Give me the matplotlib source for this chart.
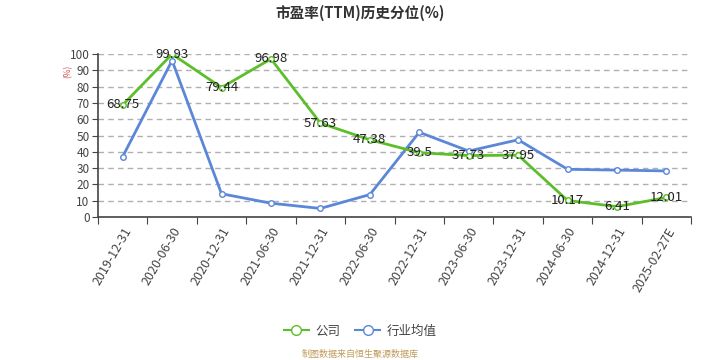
import matplotlib
matplotlib.use('Agg')
import matplotlib.pyplot as plt
import numpy as np

plt.rcParams['font.family'] = ['Noto Sans CJK SC', 'DejaVu Sans']

dates = ['2019-12-31', '2020-06-30', '2020-12-31', '2021-06-30', '2021-12-31', '2022-06-30',
         '2022-12-31', '2023-06-30', '2023-12-31', '2024-06-30', '2024-12-31', '2025-02-27E']
company = [68.75, 99.93, 79.44, 96.98, 57.63, 47.38, 39.5, 37.73, 37.95, 10.17, 6.41, 12.01]
industry = [37.0, 96.0, 14.3, 8.5, 5.3, 13.8, 52.0, 40.5, 47.4, 29.3, 28.8, 28.3]

green = '#5cbf2a'
blue = '#5b87d9'

fig = plt.figure(figsize=(7.2, 3.6), dpi=100)
ax = fig.add_axes([0.136, 0.397, 0.824, 0.453])

x = np.arange(len(dates))
ax.plot(x, company, color=green, lw=2, marker='o', ms=4, mfc='white', mec=green, mew=1, zorder=4)
ax.plot(x, industry, color=blue, lw=2, marker='o', ms=4, mfc='white', mec=blue, mew=1, zorder=3)
for xi, v in zip(x, company):
    ax.text(xi, v, f'{v:g}', ha='center', va='center', fontsize=9.5, color='#222222', zorder=5)

ax.set_xlim(-0.5, len(dates) - 0.5)
ax.set_ylim(0, 100)
ax.set_yticks(range(0, 101, 10))
ax.set_xticks(np.arange(len(dates) + 1) - 0.5)
ax.set_xticklabels([])
ax.set_xticks(x, minor=True)
ax.set_xticklabels(dates, minor=True, rotation=60, ha='right', va='top', fontsize=9, color='#444444',
                   rotation_mode='anchor')
ax.tick_params(axis='x', which='minor', length=0, pad=6)
ax.tick_params(axis='x', which='major', length=5, color='#444444')
ax.tick_params(axis='y', length=4, pad=2, color='#444444', labelsize=8.5, labelcolor='#444444')
ax.grid(axis='y', linestyle=(0, (4, 3)), color='#b0b0b0', lw=1)
ax.set_axisbelow(True)
for s in ['top', 'right']:
    ax.spines[s].set_visible(False)
for s in ['left', 'bottom']:
    ax.spines[s].set_color('#444444')
    ax.spines[s].set_linewidth(1.2)

fig.text(0.094, 0.803, '(%)', color='#d05050', fontsize=6, rotation=90, ha='center', va='center')
fig.text(0.5, 0.965, '市盈率(TTM)历史分位(%)', ha='center', va='center', fontsize=10.5,
         fontweight='bold', color='#333333')

leg = ax.legend([plt.Line2D([], [], color=green, lw=1.5, marker='o', ms=7, mfc='white', mec=green),
                 plt.Line2D([], [], color=blue, lw=1.5, marker='o', ms=7, mfc='white', mec=blue)],
                ['公司', '行业均值'], loc='center', bbox_to_anchor=(0.5, 0.08),
                bbox_transform=fig.transFigure, ncol=2, frameon=False, fontsize=9,
                handlelength=2.0, columnspacing=1.2, handletextpad=0.5)
for t in leg.get_texts():
    t.set_color('#444444')

fig.text(0.5, 0.016, '制图数据来自恒生聚源数据库', ha='center', va='center', fontsize=6.5, color='#c09a5a')

fig.savefig('out.png', dpi=100)
